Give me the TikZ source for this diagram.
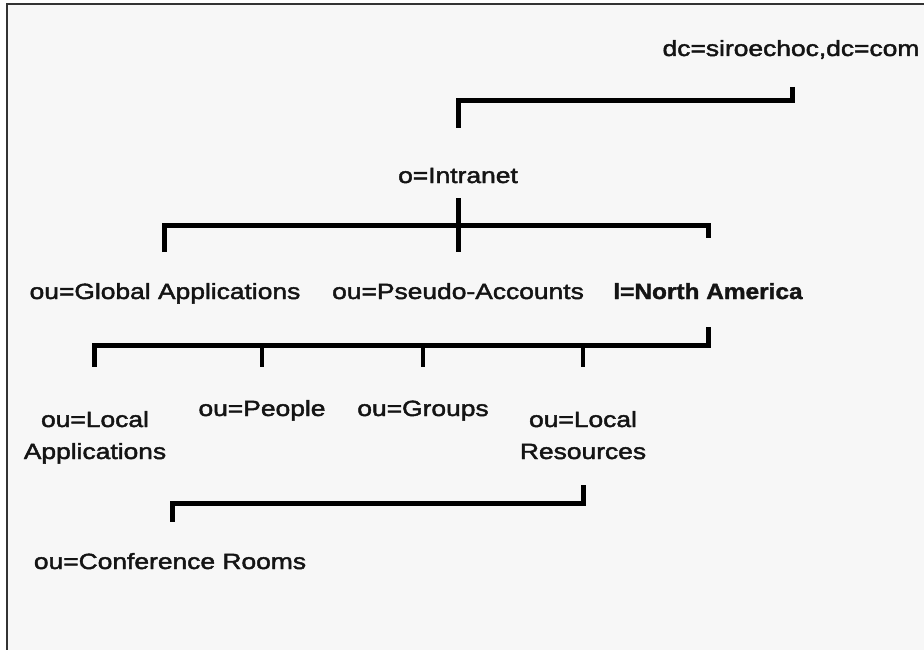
\documentclass[tikz,border=0pt]{standalone}
\usepackage{fontspec}
\setmainfont{Liberation Sans}
\newfontfamily\labfont{Liberation Sans}[FakeStretch=1.2,FakeBold=2]
\newfontfamily\labbold{Liberation Sans}[UprightFont={* Bold},FakeStretch=1.11,FakeBold=1.5]
\usetikzlibrary{calc}
\definecolor{bgcol}{HTML}{F7F7F7}
\definecolor{framecol}{HTML}{333333}
\definecolor{txtcol}{HTML}{141414}
\tikzset{
  lab/.style={inner sep=0pt, anchor=base, text=txtcol, align=center,
    font=\labfont\fontsize{22}{32}\selectfont},
  labb/.style={lab, font=\labbold\fontsize{22}{32}\selectfont},
  br/.style={draw=black, line width=5pt, line join=miter, line cap=butt},
  tick/.style={draw=black, line width=4pt, line cap=butt},
}
\begin{document}
\begin{tikzpicture}[x=1pt,y=-1pt]
\useasboundingbox (0,0) rectangle (924,650);
\fill[white] (0,0) rectangle (924,650);
\begin{scope}
  \clip (0,0) rectangle (924,650);
  \filldraw[fill=bgcol, draw=framecol, line width=1.5pt] (7,4) rectangle (935,665);
\end{scope}

% nodes
\node[lab] (dc) at (791,56) {dc=siroechoc,dc=com};
\node[lab] (intranet) at (458,183) {o=Intranet};
\node[lab] (global) at (165,299) {ou=Global Applications};
\node[lab] (pseudo) at (458,299) {ou=Pseudo-Accounts};
\node[labb] (na) at (708,299) {l=North America};
\node[lab] (locapp) at (95,459) {ou=Local\\Applications};
\node[lab] (people) at (262,416) {ou=People};
\node[lab] (groups) at (423,416) {ou=Groups};
\node[lab] (locres) at (583,459) {ou=Local\\Resources};
\node[lab] (conf) at (170,569) {ou=Conference Rooms};

% bracket 1
\draw[br] ($(dc.base)+(1,31)$) |- ($(intranet.base)+(0,-82)$) -- ($(intranet.base)+(0,-55)$);
% bracket 2
\draw[br] ($(intranet.base)+(0,15)$) -- ($(pseudo.base)+(0,-47)$);
\draw[br] ($(global.base)+(-1,-47)$) |- ($(na.base)+(0,-74)$) -- ($(na.base)+(0,-61)$);
% bracket 3
\draw[br] ($(na.base)+(0,28)$) |- ($(locapp.base)+(-1,-114)$) -- ($(locapp.base)+(-1,-92)$);
\draw[tick] ($(people.base)+(0,-71)$) -- ($(people.base)+(0,-49)$);
\draw[tick] ($(groups.base)+(0,-71)$) -- ($(groups.base)+(0,-49)$);
\draw[tick] ($(locres.base)+(0,-114)$) -- ($(locres.base)+(0,-92)$);
% bracket 4
\draw[br] ($(locres.base)+(0,26)$) |- ($(conf.base)+(2,-66)$) -- ($(conf.base)+(2,-47)$);
\end{tikzpicture}
\end{document}
